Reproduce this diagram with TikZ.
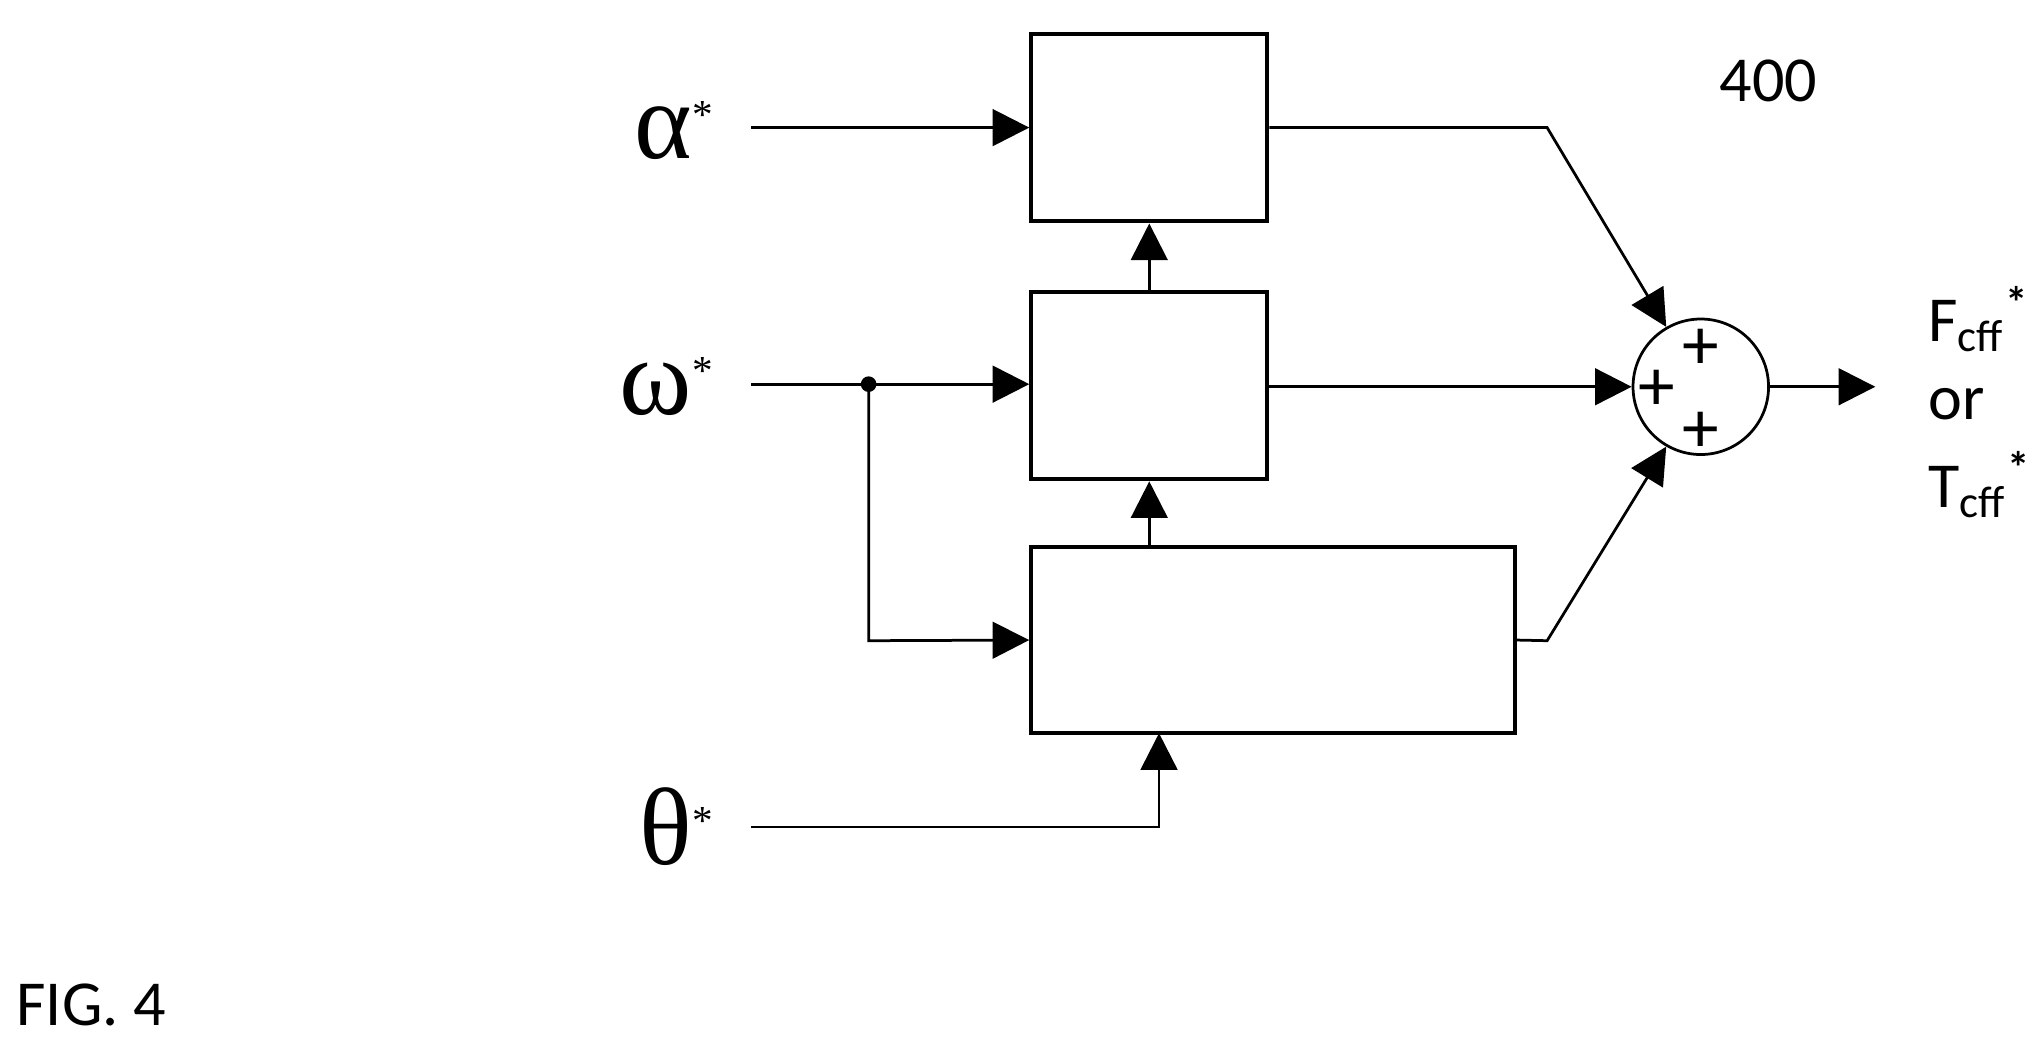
\documentclass[tikz,border=0pt]{standalone}
\usepackage{fontspec}
\setmainfont{Carlito}
\newfontfamily\grk{Liberation Serif}
\usetikzlibrary{arrows.meta}
\begin{document}
\begin{tikzpicture}[x=0.01cm,y=-0.01cm,
  blk/.style={draw,line width=0.9pt,inner sep=0pt},
  ar/.style={-{Triangle[length=8pt,width=8pt]},line width=0.6pt},
  gl/.style={font=\grk\fontsize{24}{24}\selectfont,anchor=east,inner sep=0pt},
  lb/.style={font=\fontsize{14}{16}\selectfont,inner sep=0pt}]
\useasboundingbox (0,0) rectangle (1568,804);
\node[blk,minimum width=1.81cm,minimum height=1.44cm] (b1) at (882.5,98) {};
\node[blk,minimum width=1.81cm,minimum height=1.44cm] (b2) at (882.5,296) {};
\node[blk,minimum width=3.71cm,minimum height=1.43cm] (b3) at (977.5,491.5) {};
\node[draw,circle,minimum size=1.04cm,inner sep=0pt,line width=0.6pt] (s) at (1306,297) {};
\node[gl] (a) at (548,100) {α\raisebox{0.6ex}{\small*}};
\node[gl] (w) at (548,297) {ω\raisebox{0.6ex}{\small*}};
\node[gl] (t) at (548,635) {θ\raisebox{0.6ex}{\small*}};
\coordinate (aw) at (577,98); \coordinate (ww) at (577,295); \coordinate (tw) at (577,635);
\draw[ar] (aw) -- (aw -| b1.west);
\draw[ar] (ww) -- (ww -| b2.west);
\fill (667,295) circle (6) coordinate (d);
\draw[ar] (d) -- (667,492) -- (b3.west);
\draw[ar] (tw) -- (890,635) -- (890,563);
\draw[ar] (b2.north) -- (b1.south);
\draw[ar] (b3.north -| b2) -- (b2.south);
\draw[ar] (b1.east) -- (1188,98) -- (s.120);
\draw[ar] (b2.east |- s) -- (s.west);
\draw[ar] (b3.east) -- (1188,492) -- (s.-120);
\coordinate (o) at (1440,297);
\draw[ar] (s.east) -- (o);
\node[font=\fontsize{16}{16}\selectfont] at (1306,268) {+};
\node[font=\fontsize{16}{16}\selectfont] at (1272,300) {+};
\node[font=\fontsize{16}{16}\selectfont] at (1306,332) {+};
\node[lb,anchor=west] at (1480,245) {F\textsubscript{cff}\textsuperscript{\bfseries*}};
\node[lb,anchor=west] at (1480,310) {or};
\node[lb,anchor=west] at (1480,372) {T\textsubscript{cff}\textsuperscript{\bfseries*}};
\node[lb] at (1358,62) {400};
\node[lb,anchor=west] at (12,772) {FIG. 4};
\end{tikzpicture}
\end{document}
